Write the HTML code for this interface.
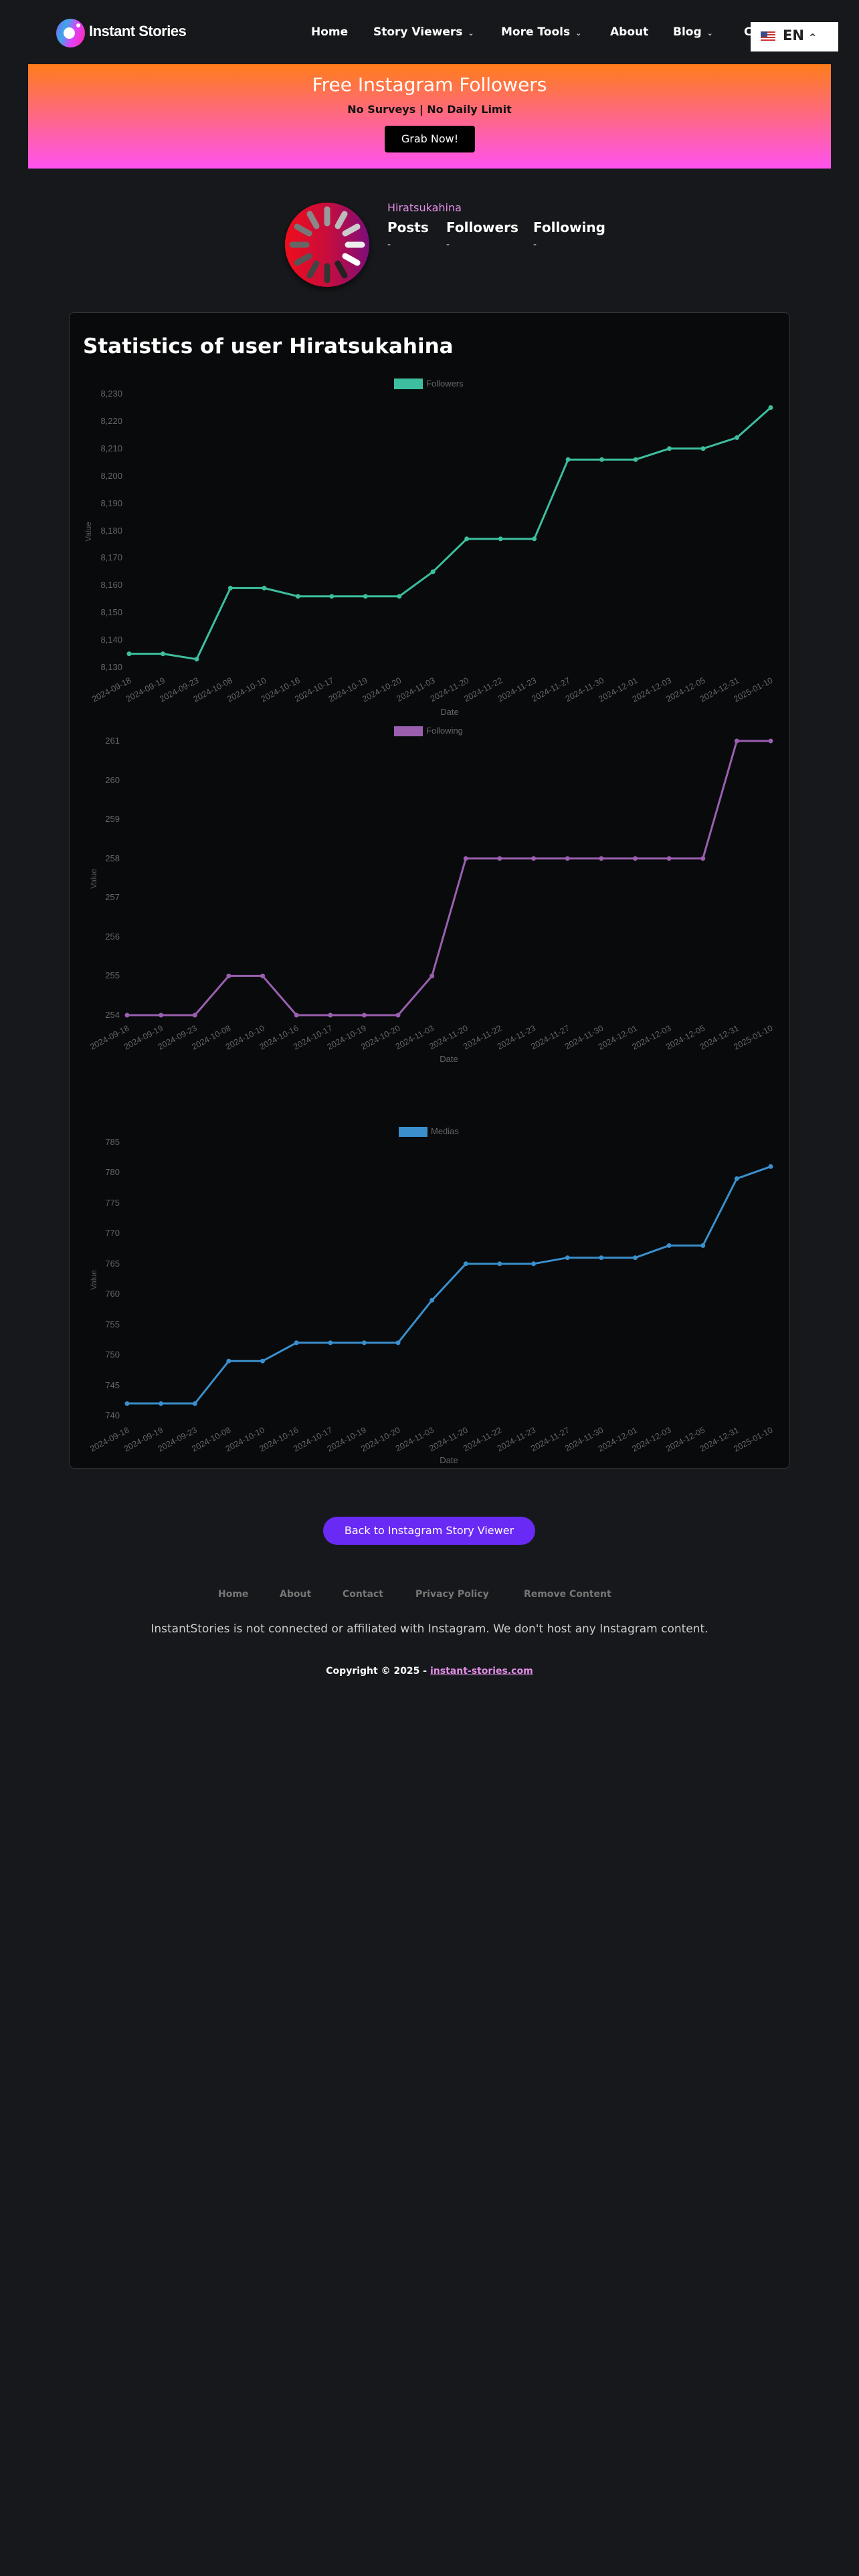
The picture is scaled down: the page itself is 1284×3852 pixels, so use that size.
<!DOCTYPE html>
<html><head><meta charset="utf-8">
<style>
*{margin:0;padding:0;box-sizing:border-box}
html,body{width:1284px;height:3852px;background:#16181b;font-family:"DejaVu Sans","Liberation Sans",sans-serif;overflow:hidden}
.a{position:absolute;white-space:nowrap}
.nav{color:#fff;font-weight:bold;font-size:17px;top:38px}
.car{font-size:11px;font-weight:normal;margin-left:8px}
.fl{color:#777;font-weight:bold;font-size:14px;top:2376px}
</style></head><body>
<!-- header -->
<div class="a" style="left:84px;top:28px;width:43px;height:43px;border-radius:50%;background:linear-gradient(110deg,#8b5cf6 0%,#3aa8e8 30%,#e040fb 60%,#ff2aa0 100%)"></div>
<div class="a" style="left:95px;top:41px;width:17px;height:17px;border-radius:50%;background:#fff"></div>
<div class="a" style="left:114px;top:35px;width:6px;height:6px;border-radius:50%;background:#fff"></div>
<div class="a" style="left:133px;top:34px;color:#fff;font-family:'Liberation Sans',sans-serif;font-weight:bold;font-size:22px;letter-spacing:-0.5px">Instant Stories</div>
<div class="a nav" style="left:465px">Home</div>
<div class="a nav" style="left:558px">Story Viewers<span class="car">&#8964;</span></div>
<div class="a nav" style="left:749px">More Tools<span class="car">&#8964;</span></div>
<div class="a nav" style="left:912px">About</div>
<div class="a nav" style="left:1006px">Blog<span class="car">&#8964;</span></div>
<div class="a nav" style="left:1112px">C</div>
<div class="a" style="left:1122px;top:33px;width:131px;height:44px;background:#fff"></div>
<div class="a" style="left:1137px;top:47px;width:22px;height:15px;background:repeating-linear-gradient(#c33 0 2px,#fff 2px 4px)"></div>
<div class="a" style="left:1137px;top:47px;width:10px;height:8px;background:#3b4b8a"></div>
<div class="a" style="left:1170px;top:41px;font-weight:bold;font-size:21px;color:#222">EN <span style="font-size:13px">^</span></div>
<!-- banner -->
<div class="a" style="left:42px;top:96px;width:1200px;height:156px;background:linear-gradient(#ff7d1a,#ff52f0)"></div>
<div class="a" style="left:42px;width:1200px;top:110px;text-align:center;color:#fff;font-size:28px">Free Instagram Followers</div>
<div class="a" style="left:42px;width:1200px;top:154px;text-align:center;color:#111;font-size:16px;font-weight:bold">No Surveys | No Daily Limit</div>
<div class="a" style="left:575px;top:188px;width:135px;height:40px;background:#000;border-radius:4px;color:#fff;font-size:16px;text-align:center;line-height:40px">Grab Now!</div>
<!-- profile -->
<svg class="a" style="left:420px;top:296px" width="140" height="140" viewBox="0 0 140 140">
<defs><linearGradient id="av" x1="0" x2="1"><stop offset="0" stop-color="#f00c1c"/><stop offset="0.5" stop-color="#c8083c"/><stop offset="1" stop-color="#7d0a7a"/></linearGradient>
<filter id="sh"><feDropShadow dx="0" dy="4" stdDeviation="5" flood-color="#000" flood-opacity="0.6"/></filter></defs>
<circle cx="69" cy="70" r="63" fill="url(#av)" filter="url(#sh)"/>
<g stroke-linecap="round" stroke-width="9">
<line x1="69" y1="17" x2="69" y2="38" stroke="#999"/>
<line x1="95" y1="24" x2="85" y2="42" stroke="#bbb"/>
<line x1="114" y1="43" x2="96" y2="53" stroke="#ccc"/>
<line x1="121" y1="70" x2="100" y2="70" stroke="#eee"/>
<line x1="114" y1="97" x2="96" y2="87" stroke="#fff"/>
<line x1="95" y1="116" x2="85" y2="98" stroke="#222"/>
<line x1="69" y1="123" x2="69" y2="102" stroke="#333"/>
<line x1="43" y1="116" x2="53" y2="98" stroke="#444"/>
<line x1="24" y1="97" x2="42" y2="87" stroke="#555"/>
<line x1="17" y1="70" x2="38" y2="70" stroke="#666"/>
<line x1="24" y1="43" x2="42" y2="53" stroke="#777"/>
<line x1="43" y1="24" x2="53" y2="42" stroke="#888"/>
</g></svg>
<div class="a" style="left:579px;top:301px;color:#e38ee6;font-size:16px">Hiratsukahina</div>
<div class="a" style="left:579px;top:328px;color:#fff;font-size:20px;font-weight:bold">Posts</div>
<div class="a" style="left:667px;top:328px;color:#fff;font-size:20px;font-weight:bold">Followers</div>
<div class="a" style="left:797px;top:328px;color:#fff;font-size:20px;font-weight:bold">Following</div>
<div class="a" style="left:579px;top:358px;color:#ccc;font-size:14px">-</div>
<div class="a" style="left:667px;top:358px;color:#ccc;font-size:14px">-</div>
<div class="a" style="left:797px;top:358px;color:#ccc;font-size:14px">-</div>
<!-- card -->
<div class="a" style="left:103px;top:467px;width:1078px;height:1729px;background:#080a0c;border:1px solid #33363a;border-radius:8px"></div>
<div class="a" style="left:124px;top:500px;color:#fff;font-size:31px;font-weight:bold">Statistics of user Hiratsukahina</div>
<svg class="a" style="left:0;top:0" width="1284" height="2300" font-family="Liberation Sans, sans-serif" font-size="13" fill="#666">
<!-- chart1 -->
<rect x="589" y="566" width="43" height="16" fill="#3dbf9f"/><text x="637" y="578">Followers</text>
<g text-anchor="end">
<text x="183" y="593">8,230</text><text x="183" y="634">8,220</text><text x="183" y="675">8,210</text><text x="183" y="716">8,200</text><text x="183" y="757">8,190</text><text x="183" y="798">8,180</text><text x="183" y="838">8,170</text><text x="183" y="879">8,160</text><text x="183" y="920">8,150</text><text x="183" y="961">8,140</text><text x="183" y="1002">8,130</text>
</g>
<text transform="translate(136,795) rotate(-90)" text-anchor="middle" font-size="12" fill="#555">Value</text>
<polyline fill="none" stroke="#3dbf9f" stroke-width="3" points="193,977.6 243.5,977.6 294,985.7 344.4,879.4 394.9,879.4 445.4,891.7 495.8,891.7 546.3,891.7 596.8,891.7 647.2,854.9 697.7,805.8 748.2,805.8 798.6,805.8 849.1,687.2 899.6,687.2 950,687.2 1000.5,670.8 1051,670.8 1101.5,654.4 1152,609.5"/>
<g fill="#3dbf9f"><circle cx="193" cy="977.6" r="3.5"/><circle cx="243.5" cy="977.6" r="3.5"/><circle cx="294" cy="985.7" r="3.5"/><circle cx="344.4" cy="879.4" r="3.5"/><circle cx="394.9" cy="879.4" r="3.5"/><circle cx="445.4" cy="891.7" r="3.5"/><circle cx="495.8" cy="891.7" r="3.5"/><circle cx="546.3" cy="891.7" r="3.5"/><circle cx="596.8" cy="891.7" r="3.5"/><circle cx="647.2" cy="854.9" r="3.5"/><circle cx="697.7" cy="805.8" r="3.5"/><circle cx="748.2" cy="805.8" r="3.5"/><circle cx="798.6" cy="805.8" r="3.5"/><circle cx="849.1" cy="687.2" r="3.5"/><circle cx="899.6" cy="687.2" r="3.5"/><circle cx="950" cy="687.2" r="3.5"/><circle cx="1000.5" cy="670.8" r="3.5"/><circle cx="1051" cy="670.8" r="3.5"/><circle cx="1101.5" cy="654.4" r="3.5"/><circle cx="1152" cy="609.5" r="3.5"/></g>
<g text-anchor="end" font-size="12.5">
<text transform="translate(197,1020) rotate(-28)">2024-09-18</text><text transform="translate(247.5,1020) rotate(-28)">2024-09-19</text><text transform="translate(298,1020) rotate(-28)">2024-09-23</text><text transform="translate(348.4,1020) rotate(-28)">2024-10-08</text><text transform="translate(398.9,1020) rotate(-28)">2024-10-10</text><text transform="translate(449.4,1020) rotate(-28)">2024-10-16</text><text transform="translate(499.8,1020) rotate(-28)">2024-10-17</text><text transform="translate(550.3,1020) rotate(-28)">2024-10-19</text><text transform="translate(600.8,1020) rotate(-28)">2024-10-20</text><text transform="translate(651.2,1020) rotate(-28)">2024-11-03</text><text transform="translate(701.7,1020) rotate(-28)">2024-11-20</text><text transform="translate(752.2,1020) rotate(-28)">2024-11-22</text><text transform="translate(802.6,1020) rotate(-28)">2024-11-23</text><text transform="translate(853.1,1020) rotate(-28)">2024-11-27</text><text transform="translate(903.6,1020) rotate(-28)">2024-11-30</text><text transform="translate(954,1020) rotate(-28)">2024-12-01</text><text transform="translate(1004.5,1020) rotate(-28)">2024-12-03</text><text transform="translate(1055,1020) rotate(-28)">2024-12-05</text><text transform="translate(1105.5,1020) rotate(-28)">2024-12-31</text><text transform="translate(1156,1020) rotate(-28)">2025-01-10</text>
</g>
<text x="672" y="1069" text-anchor="middle">Date</text>
<!-- chart2 -->
<rect x="589" y="1086" width="43" height="15" fill="#9b5fb0"/><text x="637" y="1097">Following</text>
<g text-anchor="end">
<text x="179" y="1112">261</text><text x="179" y="1171">260</text><text x="179" y="1229">259</text><text x="179" y="1288">258</text><text x="179" y="1346">257</text><text x="179" y="1405">256</text><text x="179" y="1463">255</text><text x="179" y="1522">254</text>
</g>
<text transform="translate(144,1314) rotate(-90)" text-anchor="middle" font-size="12" fill="#555">Value</text>
<polyline fill="none" stroke="#9b5fb0" stroke-width="3" points="190,1518 240.6,1518 291.3,1518 341.9,1459.4 392.5,1459.4 443.2,1518 493.8,1518 544.4,1518 595,1518 645.7,1459.4 696.3,1283.7 746.9,1283.7 797.6,1283.7 848.2,1283.7 898.8,1283.7 949.5,1283.7 1000.1,1283.7 1050.7,1283.7 1101.3,1108 1152,1108"/>
<g fill="#9b5fb0"><circle cx="190" cy="1518" r="3.5"/><circle cx="240.6" cy="1518" r="3.5"/><circle cx="291.3" cy="1518" r="3.5"/><circle cx="341.9" cy="1459.4" r="3.5"/><circle cx="392.5" cy="1459.4" r="3.5"/><circle cx="443.2" cy="1518" r="3.5"/><circle cx="493.8" cy="1518" r="3.5"/><circle cx="544.4" cy="1518" r="3.5"/><circle cx="595" cy="1518" r="3.5"/><circle cx="645.7" cy="1459.4" r="3.5"/><circle cx="696.3" cy="1283.7" r="3.5"/><circle cx="746.9" cy="1283.7" r="3.5"/><circle cx="797.6" cy="1283.7" r="3.5"/><circle cx="848.2" cy="1283.7" r="3.5"/><circle cx="898.8" cy="1283.7" r="3.5"/><circle cx="949.5" cy="1283.7" r="3.5"/><circle cx="1000.1" cy="1283.7" r="3.5"/><circle cx="1050.7" cy="1283.7" r="3.5"/><circle cx="1101.3" cy="1108" r="3.5"/><circle cx="1152" cy="1108" r="3.5"/></g>
<g text-anchor="end" font-size="12.5">
<text transform="translate(194,1540) rotate(-28)">2024-09-18</text><text transform="translate(244.6,1540) rotate(-28)">2024-09-19</text><text transform="translate(295.3,1540) rotate(-28)">2024-09-23</text><text transform="translate(345.9,1540) rotate(-28)">2024-10-08</text><text transform="translate(396.5,1540) rotate(-28)">2024-10-10</text><text transform="translate(447.2,1540) rotate(-28)">2024-10-16</text><text transform="translate(497.8,1540) rotate(-28)">2024-10-17</text><text transform="translate(548.4,1540) rotate(-28)">2024-10-19</text><text transform="translate(599,1540) rotate(-28)">2024-10-20</text><text transform="translate(649.7,1540) rotate(-28)">2024-11-03</text><text transform="translate(700.3,1540) rotate(-28)">2024-11-20</text><text transform="translate(750.9,1540) rotate(-28)">2024-11-22</text><text transform="translate(801.6,1540) rotate(-28)">2024-11-23</text><text transform="translate(852.2,1540) rotate(-28)">2024-11-27</text><text transform="translate(902.8,1540) rotate(-28)">2024-11-30</text><text transform="translate(953.5,1540) rotate(-28)">2024-12-01</text><text transform="translate(1004.1,1540) rotate(-28)">2024-12-03</text><text transform="translate(1054.7,1540) rotate(-28)">2024-12-05</text><text transform="translate(1105.3,1540) rotate(-28)">2024-12-31</text><text transform="translate(1156,1540) rotate(-28)">2025-01-10</text>
</g>
<text x="671" y="1588" text-anchor="middle">Date</text>
<!-- chart3 -->
<rect x="596" y="1685" width="43" height="15" fill="#3a8fcc"/><text x="644" y="1696">Medias</text>
<g text-anchor="end">
<text x="179" y="1712">785</text><text x="179" y="1757">780</text><text x="179" y="1803">775</text><text x="179" y="1848">770</text><text x="179" y="1894">765</text><text x="179" y="1939">760</text><text x="179" y="1985">755</text><text x="179" y="2030">750</text><text x="179" y="2076">745</text><text x="179" y="2121">740</text>
</g>
<text transform="translate(144,1914) rotate(-90)" text-anchor="middle" font-size="12" fill="#555">Value</text>
<polyline fill="none" stroke="#3a8fcc" stroke-width="3" points="190,2098.8 240.6,2098.8 291.3,2098.8 341.9,2035.2 392.5,2035.2 443.2,2007.9 493.8,2007.9 544.4,2007.9 595,2007.9 645.7,1944.3 696.3,1889.8 746.9,1889.8 797.6,1889.8 848.2,1880.7 898.8,1880.7 949.5,1880.7 1000.1,1862.5 1050.7,1862.5 1101.3,1762.5 1152,1744.4"/>
<g fill="#3a8fcc"><circle cx="190" cy="2098.8" r="3.5"/><circle cx="240.6" cy="2098.8" r="3.5"/><circle cx="291.3" cy="2098.8" r="3.5"/><circle cx="341.9" cy="2035.2" r="3.5"/><circle cx="392.5" cy="2035.2" r="3.5"/><circle cx="443.2" cy="2007.9" r="3.5"/><circle cx="493.8" cy="2007.9" r="3.5"/><circle cx="544.4" cy="2007.9" r="3.5"/><circle cx="595" cy="2007.9" r="3.5"/><circle cx="645.7" cy="1944.3" r="3.5"/><circle cx="696.3" cy="1889.8" r="3.5"/><circle cx="746.9" cy="1889.8" r="3.5"/><circle cx="797.6" cy="1889.8" r="3.5"/><circle cx="848.2" cy="1880.7" r="3.5"/><circle cx="898.8" cy="1880.7" r="3.5"/><circle cx="949.5" cy="1880.7" r="3.5"/><circle cx="1000.1" cy="1862.5" r="3.5"/><circle cx="1050.7" cy="1862.5" r="3.5"/><circle cx="1101.3" cy="1762.5" r="3.5"/><circle cx="1152" cy="1744.4" r="3.5"/></g>
<g text-anchor="end" font-size="12.5">
<text transform="translate(194,2141) rotate(-28)">2024-09-18</text><text transform="translate(244.6,2141) rotate(-28)">2024-09-19</text><text transform="translate(295.3,2141) rotate(-28)">2024-09-23</text><text transform="translate(345.9,2141) rotate(-28)">2024-10-08</text><text transform="translate(396.5,2141) rotate(-28)">2024-10-10</text><text transform="translate(447.2,2141) rotate(-28)">2024-10-16</text><text transform="translate(497.8,2141) rotate(-28)">2024-10-17</text><text transform="translate(548.4,2141) rotate(-28)">2024-10-19</text><text transform="translate(599,2141) rotate(-28)">2024-10-20</text><text transform="translate(649.7,2141) rotate(-28)">2024-11-03</text><text transform="translate(700.3,2141) rotate(-28)">2024-11-20</text><text transform="translate(750.9,2141) rotate(-28)">2024-11-22</text><text transform="translate(801.6,2141) rotate(-28)">2024-11-23</text><text transform="translate(852.2,2141) rotate(-28)">2024-11-27</text><text transform="translate(902.8,2141) rotate(-28)">2024-11-30</text><text transform="translate(953.5,2141) rotate(-28)">2024-12-01</text><text transform="translate(1004.1,2141) rotate(-28)">2024-12-03</text><text transform="translate(1054.7,2141) rotate(-28)">2024-12-05</text><text transform="translate(1105.3,2141) rotate(-28)">2024-12-31</text><text transform="translate(1156,2141) rotate(-28)">2025-01-10</text>
</g>
<text x="671" y="2188" text-anchor="middle">Date</text>
</svg>
<!-- footer -->
<div class="a" style="left:483px;top:2268px;width:317px;height:42px;border-radius:21px;background:#6a2af5;color:#fff;font-size:16px;text-align:center;line-height:42px">Back to Instagram Story Viewer</div>
<div class="a fl" style="left:326px">Home</div>
<div class="a fl" style="left:418px">About</div>
<div class="a fl" style="left:512px">Contact</div>
<div class="a fl" style="left:621px">Privacy Policy</div>
<div class="a fl" style="left:783px">Remove Content</div>
<div class="a" style="left:0;width:1284px;top:2426px;text-align:center;color:#ccc;font-size:17px">InstantStories is not connected or affiliated with Instagram. We don't host any Instagram content.</div>
<div class="a" style="left:0;width:1284px;top:2491px;text-align:center;color:#fff;font-size:14px;font-weight:bold">Copyright © 2025 - <span style="color:#e38ee6;text-decoration:underline">instant-stories.com</span></div>
</body></html>
